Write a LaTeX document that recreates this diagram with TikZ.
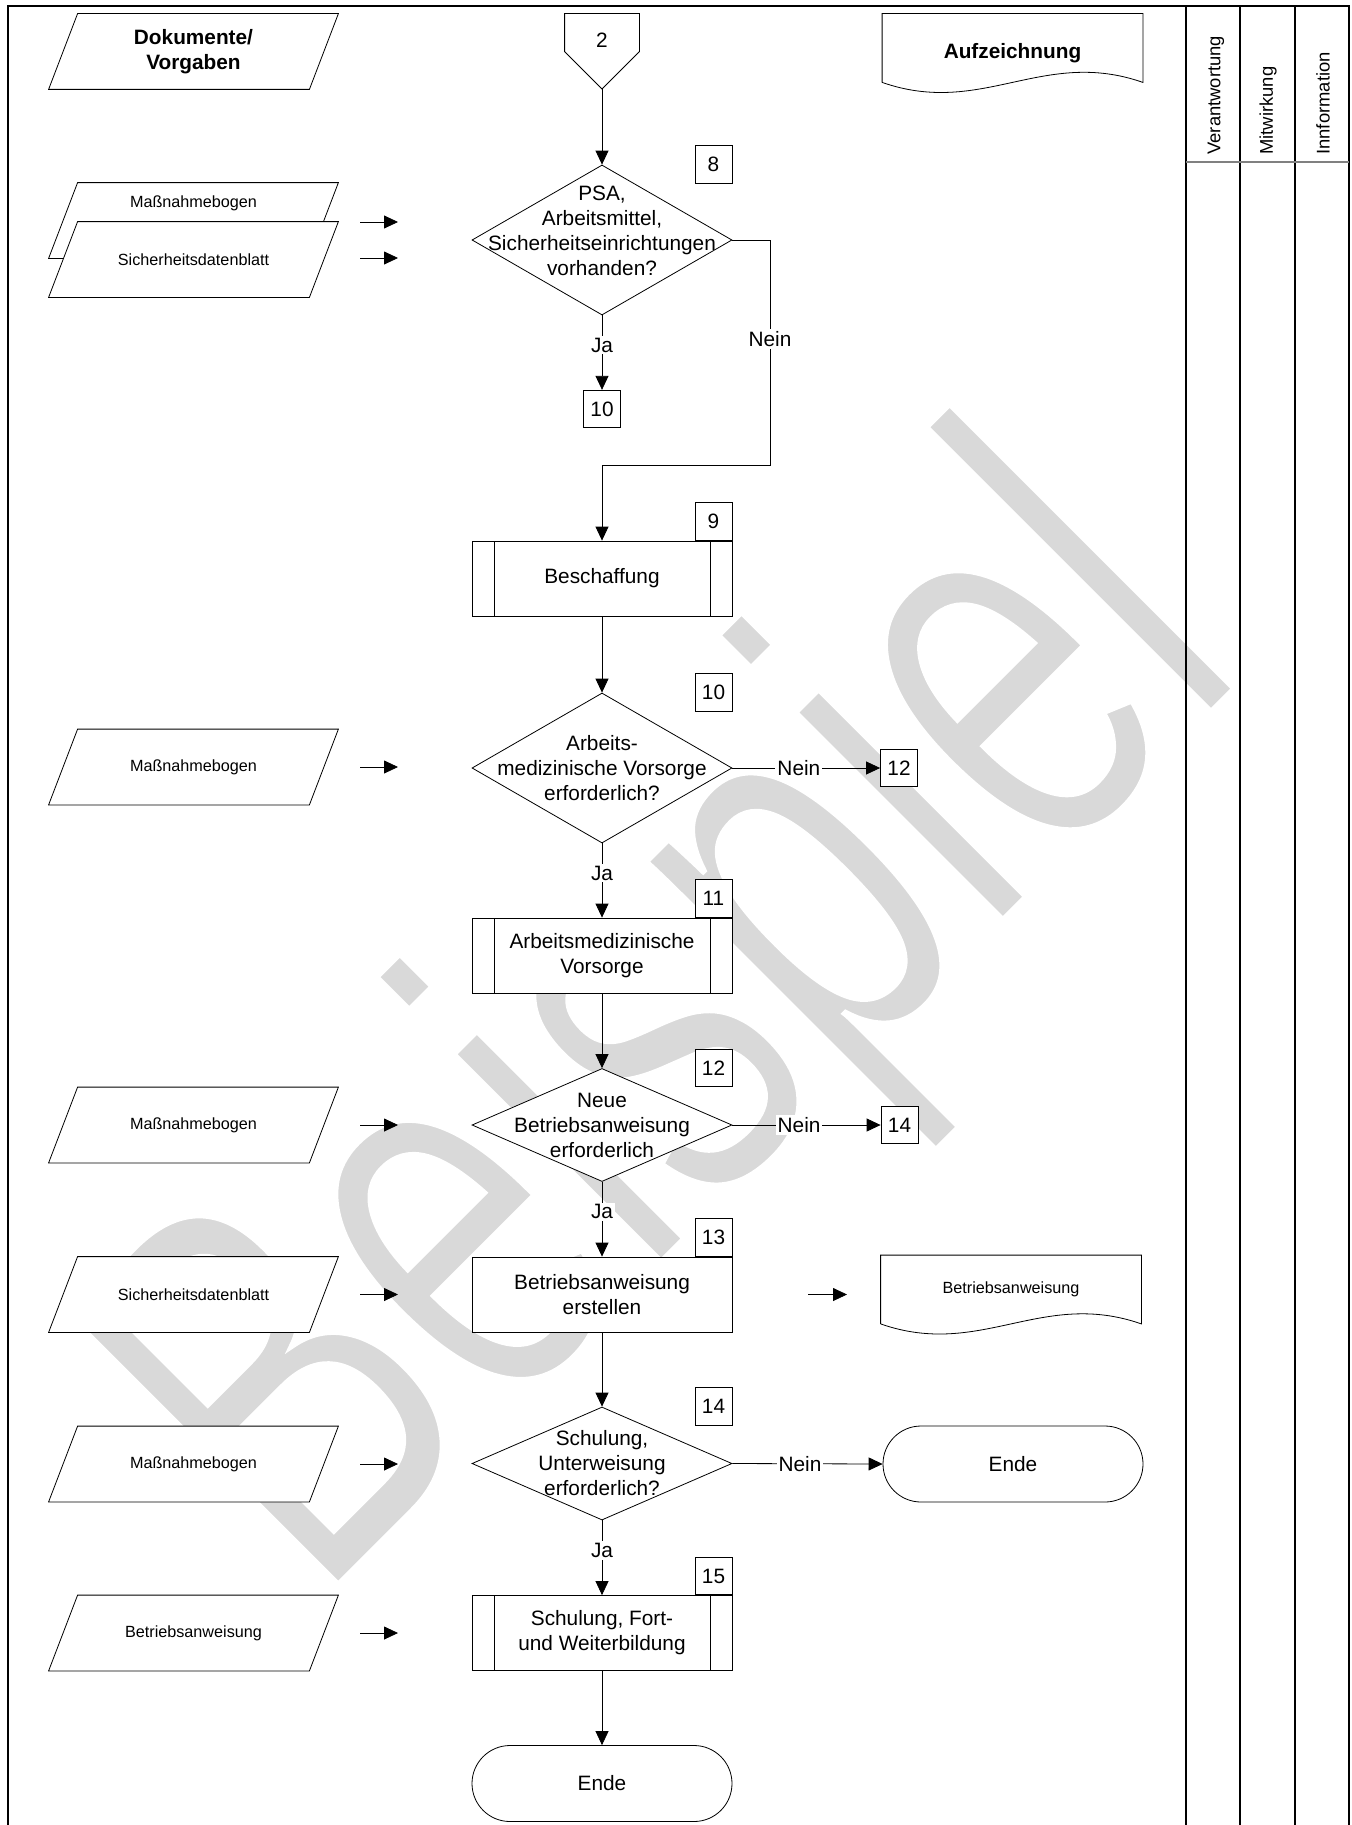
\documentclass[tikz,border=0pt]{standalone}
\usepackage{fontspec}
\setmainfont{Liberation Sans}
\newfontfamily\wmfont[FakeStretch=0.68]{Liberation Sans}
\usetikzlibrary{positioning,calc,shapes.geometric,shapes.misc,arrows.meta}

\pgfdeclarelayer{wmlayer}
\pgfdeclarelayer{fills}
\pgfsetlayers{wmlayer,fills,main}

\newcommand{\fsmain}{\fontsize{10.4pt}{12.5pt}\selectfont}
\newcommand{\fsdoc}{\fontsize{8.1pt}{9.7pt}\selectfont}
\newcommand{\fshead}{\fontsize{9.2pt}{11pt}\selectfont}

% slanted outline round a document node
\newcommand{\docpar}[1]{%
  \begin{pgfonlayer}{fills}
  \draw[fill=white] ($(#1.south west)+(-14.5,0)$) -- ($(#1.south east)+(-14.5,0)$)
    -- ($(#1.north east)+(14.5,0)$) -- ($(#1.north west)+(14.5,0)$) -- cycle;
  \end{pgfonlayer}}
% record outline with wavy bottom
\newcommand{\docrec}[1]{%
  \begin{pgfonlayer}{fills}
  \draw[fill=white] (#1.south west) -- (#1.north west) -- (#1.north east) -- (#1.south east)
    .. controls ($(#1.south east)+(-100,-35)$) and ($(#1.south west)+(100,35)$) .. (#1.south west);
  \end{pgfonlayer}}
% thinner strokes for the watermark letters
\newcommand{\thinglyphs}[1]{\special{pdf:literal direct 2 Tr 1 G 3 w}#1\special{pdf:literal direct 0 Tr}}

\begin{document}
\begin{tikzpicture}[x=0.5pt, y=-0.5pt, line width=0.55pt, every node/.style={font=\fsmain}]
            \tikzstyle{decision}=[diamond, draw, fill=white, minimum width=130pt, minimum height=75pt, inner sep=0pt]
            \tikzstyle{smalldec}=[decision, minimum height=56.5pt]
            \tikzstyle{dtext}=[align=center, inner sep=0pt]
            \tikzstyle{process}=[rectangle, draw, fill=white, minimum width=130pt, minimum height=37.5pt, align=center, inner sep=0pt]
            \tikzstyle{subproc}=[process, path picture={\draw ([xshift=11pt]path picture bounding box.north west) -- ([xshift=11pt]path picture bounding box.south west); \draw ([xshift=-11pt]path picture bounding box.north east) -- ([xshift=-11pt]path picture bounding box.south east);}]
            \tikzstyle{numbox}=[rectangle, draw, fill=white, minimum width=18.5pt, minimum height=18.75pt, inner sep=0pt]
            \tikzstyle{docin}=[rectangle, minimum width=130pt, minimum height=37.5pt, inner sep=0pt, font=\fsdoc]
            \tikzstyle{docout}=[rectangle, minimum width=130pt, minimum height=34pt, inner sep=0pt, font=\fsdoc]
            \tikzstyle{term}=[rounded rectangle, draw, fill=white, minimum width=130pt, minimum height=38pt, inner sep=0pt]
            \tikzstyle{lbl}=[fill=white, inner sep=1pt]
            \tikzstyle{arr}=[-{Triangle[length=7pt, width=6.5pt]}]
            \tikzstyle{frame}=[line width=1pt]
            \tikzstyle{colhead}=[rotate=90, anchor=west, inner sep=0pt, font=\fshead]
            \tikzstyle{wmark}=[anchor=base west, rotate=45, inner sep=0pt, text=black!15, font=\wmfont\fontsize{278pt}{278pt}\selectfont]

            \useasboundingbox (0,0) rectangle (1351,1825);

            % watermark
            \begin{pgfonlayer}{wmlayer}
            \node[wmark] (wm) at (316,1607) {\thinglyphs{Beispiel}};
            \end{pgfonlayer}

            % frame and columns
            \draw[frame] (8,1825) -- (8,6) -- (1349,6) -- (1349,1825);
            \draw[frame] (1186,6) -- (1186,1825);
            \draw[frame] (1240,6) -- (1240,1825);
            \draw[frame] (1295,6) -- (1295,1825);
            \draw[gray, line width=1pt] (1186,162) -- (1349,162);
            \node[colhead] (hv) at (1216,155) {Verantwortung};
            \node[colhead] (hm) at (1268,155) {Mitwirkung};
            \node[colhead] (hi) at (1323,155) {Innformation};

            % head row
            \node[docin, font=\bfseries\fsmain, align=center] (hdoc) at (193.5,51.5) {Dokumente/\\Vorgaben};
            \docpar{hdoc}
            \node[rectangle, minimum width=37pt, minimum height=26.5pt, inner sep=0pt] (c2) at (602,40.5) {2};
            \coordinate (c2tip) at (602,89);
            \draw (c2.north west) -- (c2.north east) -- ($(c2.north east)+(0,38)$) -- (c2tip) -- ($(c2.north west)+(0,38)$) -- cycle;
            \node[docout] (rauf) at (1012.5,48) {};
            \docrec{rauf}
            \node[docout, font=\bfseries\fsmain] (raut) at (1012.5,53) {Aufzeichnung};

            % 8
            \node[decision] (d8) at (602,240) {};
            \node[dtext, yshift=4.5pt] (d8t) at (d8) {PSA,\\Arbeitsmittel,\\Sicherheitseinrichtungen\\vorhanden?};
            \node[numbox, anchor=east] (n8) at (d8.north -| d8.east) {8};
            \node[docin] (m1) at (193.5,220.5) {};
            \docpar{m1}
            \node[docin] (m1t) at (193.5,203) {Maßnahmebogen};
            \node[docin] (s1) at (193.5,259.5) {Sicherheitsdatenblatt};
            \docpar{s1}
            \node[numbox] (r10) at (602,409) {10};
            \draw[arr] (c2tip) -- (d8.north);
            \draw[arr] (d8.south) -- node[lbl, pos=0.4] (ja8) {Ja} (r10.north);

            % 9
            \node[subproc] (b9) at (602,578.5) {Beschaffung};
            \node[numbox, anchor=south east] (n9) at (b9.north east) {9};
            \coordinate (k8) at (770,465);
            \draw[arr] (d8.east) -| node[lbl, pos=0.72] (nein8) {Nein} (k8) -- (k8 -| b9.north) -- (b9.north);

            % 10
            \node[decision] (d10) at (602,768) {};
            \node[dtext] (d10t) at (d10) {Arbeits-\\medizinische Vorsorge\\erforderlich?};
            \node[numbox, anchor=east] (n10) at (d10.north -| d10.east) {10};
            \node[docin] (m2) at (193.5,767) {Maßnahmebogen};
            \docpar{m2}
            \node[numbox] (r12) at (899,768) {12};
            \draw[arr] (b9.south) -- (d10.north);
            \draw[arr] (d10.east) -- node[lbl, pos=0.45] (nein10) {Nein} (r12.west);

            % 11
            \node[subproc] (b11) at (602,955.5) {Arbeitsmedizinische\\Vorsorge};
            \node[numbox, anchor=south east] (n11) at (b11.north east) {11};
            \draw[arr] (d10.south) -- node[lbl, pos=0.4] (ja10) {Ja} (b11.north);

            % 12
            \node[smalldec] (d12) at (602,1125) {};
            \node[dtext] (d12t) at (d12) {Neue\\Betriebsanweisung\\erforderlich};
            \node[numbox, anchor=east] (n12) at (d12.north -| d12.east) {12};
            \node[docin] (m3) at (193.5,1125) {Maßnahmebogen};
            \docpar{m3}
            \node[numbox] (r14) at (899.5,1125) {14};
            \draw[arr] (b11.south) -- (d12.north);
            \draw[arr] (d12.east) -- node[lbl, pos=0.45] (nein12) {Nein} (r14.west);

            % 13
            \node[process] (b13) at (602,1294.5) {Betriebsanweisung\\erstellen};
            \node[numbox, anchor=south east] (n13) at (b13.north east) {13};
            \node[docin] (s2) at (193.5,1294.5) {Sicherheitsdatenblatt};
            \docpar{s2}
            \node[docout] (rba) at (1011,1289.5) {Betriebsanweisung};
            \docrec{rba}
            \draw[arr] (d12.south) -- node[lbl, pos=0.4] (ja12) {Ja} (b13.north);
            \coordinate (oa) at (808,1294.5);
            \coordinate (ob) at (847,1294.5);
            \draw[arr] (oa) -- (ob);

            % 14
            \node[smalldec] (d14) at (602,1463.5) {};
            \node[dtext] (d14t) at (d14) {Schulung,\\Unterweisung\\erforderlich?};
            \node[numbox, anchor=east] (n14) at (d14.north -| d14.east) {14};
            \node[docin] (m4) at (193.5,1464) {Maßnahmebogen};
            \docpar{m4}
            \node[term] (e1) at (1013,1464) {Ende};
            \draw[arr] (b13.south) -- (d14.north);
            \draw[arr] (d14.east) -- node[lbl, pos=0.45] (nein14) {Nein} (e1.west);

            % 15
            \node[subproc] (b15) at (602,1633) {Schulung, Fort-\\und Weiterbildung};
            \node[numbox, anchor=south east] (n15) at (b15.north east) {15};
            \node[docin] (ba) at (193.5,1633) {Betriebsanweisung};
            \docpar{ba}
            \draw[arr] (d14.south) -- node[lbl, pos=0.4] (ja14) {Ja} (b15.north);
            \node[term] (e2) at (602,1783.5) {Ende};
            \draw[arr] (b15.south) -- (e2.north);

            % inputs
            \foreach \yy [count=\k] in {222,258,767,1125,1294.5,1464,1633} {
                \coordinate (ia\k) at (360,\yy);
                \coordinate (ib\k) at (398,\yy);
                \draw[arr] (ia\k) -- (ib\k);
            }
\end{tikzpicture}
\end{document}
